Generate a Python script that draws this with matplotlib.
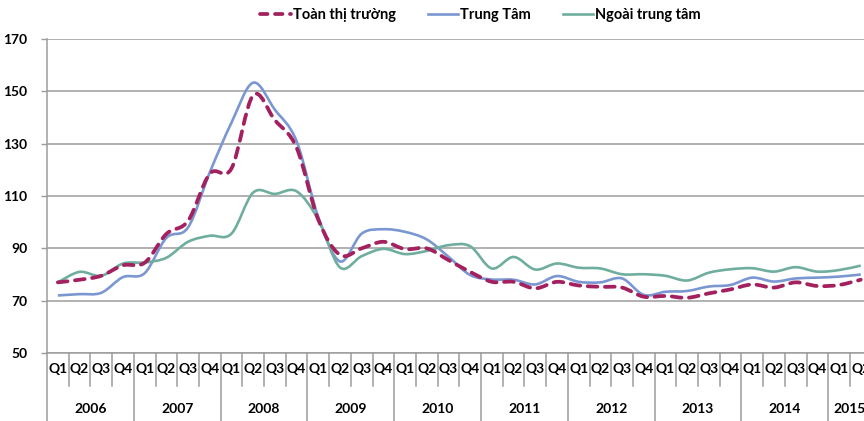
import numpy as np
import matplotlib
matplotlib.use("Agg")
import matplotlib.pyplot as plt
from matplotlib.path import Path
from matplotlib.patches import PathPatch
from matplotlib.lines import Line2D
import matplotlib.transforms as mtransforms

plt.rcParams["font.family"] = ["Lato", "DejaVu Sans"]
plt.rcParams["font.weight"] = "bold"

years = ["2006", "2007", "2008", "2009", "2010", "2011", "2012", "2013", "2014", "2015"]
quarters = ["Q1", "Q2", "Q3", "Q4"] * 9 + ["Q1", "Q2"]

# index values, 2006Q1 .. 2015Q2
toan_thi_truong = [77, 78, 79.5, 83.5, 84.5, 95.5, 100.5, 118.5, 120.5, 148.5, 139, 128.5,
                   101, 87.5, 90, 92.5, 89.7, 90, 85.5, 81, 77.2, 77.2, 74.7, 77.2,
                   75.8, 75.3, 75, 71.5, 71.8, 71.1, 72.8, 74.3, 76.2, 75, 77, 75.6, 76, 78]
trung_tam = [72, 72.5, 73, 79, 80.5, 94, 98, 119, 138, 153.3, 143, 131,
             102, 85, 95.6, 97.3, 96.3, 93.4, 86.8, 79.8, 78.1, 78, 76.2, 79.4,
             77.2, 77, 78.5, 72.2, 73.4, 73.7, 75.4, 76, 78.8, 77.3, 78.5, 78.8, 79.2, 80]
ngoai_trung_tam = [77, 81, 79.5, 84.2, 84.6, 86.4, 92.5, 94.8, 95.6, 111.3, 110.8, 111.8,
                   101, 82.7, 87, 89.8, 87.8, 89, 91.2, 90.8, 82.3, 86.7, 81.9, 84.2,
                   82.6, 82.3, 80.1, 80.1, 79.5, 77.7, 80.7, 82, 82.4, 81.1, 82.8, 81.1, 81.7, 83.4]

c_toan = "#A2215E"
c_trung = "#7B97D1"
c_ngoai = "#6FAE9F"
c_grid = "#9C9C9C"


def smooth_path(xs, ys):
    # excel-like smoothed line: catmull-rom segments as cubic beziers
    pts = np.column_stack([xs, ys]).astype(float)
    n = len(pts)
    verts = [pts[0]]
    codes = [Path.MOVETO]
    for i in range(n - 1):
        p0 = pts[max(i - 1, 0)]
        p1 = pts[i]
        p2 = pts[i + 1]
        p3 = pts[min(i + 2, n - 1)]
        verts += [p1 + (p2 - p0) / 6, p2 - (p3 - p1) / 6, p2]
        codes += [Path.CURVE4] * 3
    return Path(verts, codes)


fig = plt.figure(figsize=(8.64, 4.21), dpi=100)
qw = 21.7  # px per quarter
n = len(quarters)
ax = fig.add_axes([47 / 864, 68 / 421, n * qw / 864, 314 / 421])

x = np.arange(n) + 0.5
ax.add_patch(PathPatch(smooth_path(x, trung_tam), fill=False, ec=c_trung, lw=1.9, zorder=3))
ax.add_patch(PathPatch(smooth_path(x, ngoai_trung_tam), fill=False, ec=c_ngoai, lw=1.9, zorder=3))
ax.add_patch(PathPatch(smooth_path(x, toan_thi_truong), fill=False, ec=c_toan, lw=2.7,
                       ls=(0, (2.6, 2.0)), capstyle="round", zorder=4))

ax.set_xlim(0, n)
ax.set_ylim(50, 170)
ax.set_yticks(np.arange(50, 171, 20))
ax.grid(axis="y", color=c_grid, lw=1.1)
ax.set_axisbelow(True)
ax.tick_params(axis="y", length=4, width=1, color=c_grid, pad=10, labelsize=10)
ax.set_xticks(x)
ax.set_xticklabels(quarters)
ax.tick_params(axis="x", length=0, pad=7, labelsize=10)
for lab in ax.get_yticklabels() + ax.get_xticklabels():
    lab.set_fontweight("bold")

for s in ["top", "right"]:
    ax.spines[s].set_visible(False)
ax.spines["left"].set_color(c_grid)
ax.spines["bottom"].set_color(c_grid)
ax.spines["left"].set_linewidth(1.1)
ax.spines["bottom"].set_linewidth(1.1)

# category separators below the axis
trans = mtransforms.blended_transform_factory(ax.transData, ax.transAxes)
for i in range(n + 1):
    bottom = -0.25 if i % 4 == 0 else -0.105
    ax.plot([i, i], [0, bottom], color=c_grid, lw=1.1, transform=trans, clip_on=False)
for k, yr in enumerate(years):
    xc = k * 4 + min(4, n - k * 4) / 2
    ax.text(xc, -0.177, yr, transform=trans, ha="center", va="center",
            fontsize=10, fontweight="bold")

handles = [
    Line2D([], [], color=c_toan, lw=2.7, ls=(0, (2.0, 2.0)), dash_capstyle="round"),
    Line2D([], [], color=c_trung, lw=1.9),
    Line2D([], [], color=c_ngoai, lw=1.9),
]
fig.legend(handles, ["Toàn thị trường", "Trung Tâm", "Ngoài trung tâm"], loc="center",
           bbox_to_anchor=(0.556, 0.965), ncol=3, frameon=False, handlelength=2.1,
           handletextpad=0.1, columnspacing=2.2, prop={"size": 10.5, "weight": "bold"})

fig.savefig("out.png", dpi=100)
